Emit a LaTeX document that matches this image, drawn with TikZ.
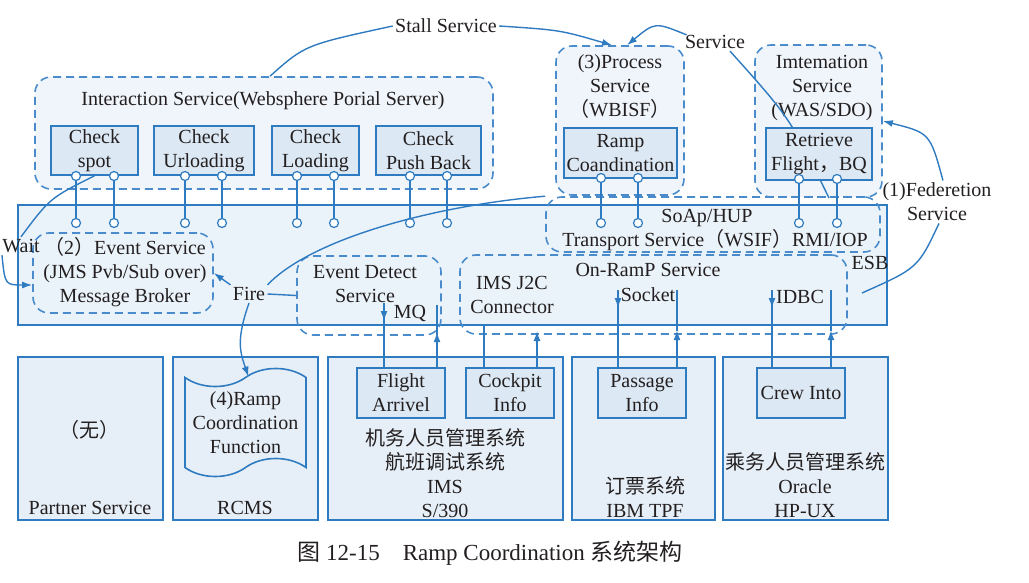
\documentclass[tikz,border=0pt]{standalone}
\usepackage{fontspec}
\setmainfont{Liberation Serif}
\newfontfamily\cjk{Noto Sans CJK SC}
\usepackage{tikz}
\usetikzlibrary{arrows.meta, positioning, calc, shapes.symbols}
\definecolor{rcblue}{HTML}{2F7BC1}
\definecolor{rcdash}{HTML}{4A8CCB}
\definecolor{rcfill}{HTML}{E6EFF7}
\definecolor{rcesb}{HTML}{EBF3FA}
\definecolor{rcapp}{HTML}{DCE8F3}
\definecolor{rcsvc}{HTML}{EFF5FA}
\definecolor{rcink}{HTML}{231F20}
\newcommand{\zh}[1]{{\cjk #1}}

\begin{document}
\begin{tikzpicture}[x=0.5pt, y=-0.5pt,
    every node/.style={text=rcink, font=\fontsize{10}{12}\selectfont, inner sep=1pt},
    svcbox/.style={draw=rcdash, line width=0.8pt, dash pattern=on 4pt off 2.5pt, rounded corners=8pt, inner sep=0pt},
    appbox/.style={draw=rcblue, line width=0.8pt, fill=rcapp, align=center, minimum width=44pt, minimum height=25pt, inner sep=0pt},
    sysbox/.style={draw=rcblue, line width=0.6pt, fill=rcfill, minimum height=81.5pt, inner sep=0pt},
    port/.style={circle, draw=rcblue, fill=white, line width=0.6pt, minimum size=4.5pt, inner sep=0pt},
    link/.style={rcblue, line width=0.7pt},
    arr/.style={link, -{Latex[length=5pt, width=3.5pt]}},
]
    \useasboundingbox (0,0) rectangle (1029,583);

    % ESB bus
    \node[sysbox, fill=rcesb, minimum width=434.5pt, minimum height=60pt] (esb) at (452.5,265) {};
    \node (esblbl) at (870,263) {ESB};

    % Interaction service
    \node[svcbox, fill=rcsvc, minimum width=229pt, minimum height=56pt] (inter) at (264,133) {};
    \node (intertxt) at (263,101) {Interaction Service(Websphere Porial Server)};
    \node[appbox, minimum width=43.5pt, minimum height=24.5pt] (cspot) at (94.5,150.5) {Check\\spot};
    \node[appbox, minimum width=50pt, minimum height=24.5pt] (curl) at (204,150.5) {Check\\Urloading};
    \node[appbox, minimum width=43.5pt, minimum height=24.5pt] (cload) at (315.5,150.5) {Check\\Loading};
    \node[appbox, minimum width=52.5pt, minimum height=24.5pt] (cpush) at (428.5,150.5) {Check\\Push Back};

    % Process service
    \node[svcbox, fill=rcsvc, minimum width=64pt, minimum height=74.5pt] (proc) at (620,120.5) {};
    \node[align=center] (proctxt) at (620,87) {(3)Process\\Service\\\zh{（}WBISF\zh{）}};
    \node[appbox, minimum width=56.5pt] (ramp) at (620.5,153) {Ramp\\Coandination};

    % Imtemation service
    \node[svcbox, fill=rcsvc, minimum width=63.5pt, minimum height=76pt] (imt) at (818.5,121) {};
    \node[align=center] (imttxt) at (822,88) {Imtemation\\Service\\(WAS/SDO)};
    \node (svc) at (715,42) {Service};
    \draw[link] ($(svc.south)+(15,0)$) .. controls (790,118) .. (829,198);
    \node[appbox, minimum width=53pt, minimum height=26pt] (retr) at (819,154) {Retrieve\\Flight\zh{，}BQ};

    % SoAp/HUP transport
    \node[svcbox, minimum width=167pt, minimum height=27.5pt] (soap) at (713,224.5) {};
    \node (soaptxt) at (707,218) {SoAp/HUP};
    \node (wsif) at (715,240) {Transport Service\zh{（}WSIF\zh{）}RMI/IOP};

    % Event service
    \node[svcbox, minimum width=90pt, minimum height=40pt] (evt) at (123,273) {};
    \node[align=center] (evttxt) at (125,272) {\zh{（}2\zh{）}Event Service\\(JMS Pvb/Sub over)\\Message Broker};

    % Event detect + On-RamP
    \node[svcbox, minimum width=72pt, minimum height=39.5pt] (det) at (369,295.5) {};
    \node[align=center] (dettxt) at (365,284) {Event Detect\\Service};
    \node[svcbox, minimum width=193.5pt, minimum height=39.5pt] (onramp) at (653.5,294.5) {};
    \node (onramptxt) at (648,270) {On-RamP Service};
    \node[align=center] (j2c) at (512,295) {IMS J2C\\Connector};

    % Back-end systems
    \node[sysbox, minimum width=72.5pt] (partner) at (90.5,438.5) {};
    \node[sysbox, minimum width=72.5pt] (rcms) at (245.5,438.5) {};
    \node[sysbox, minimum width=117.5pt] (ims) at (445.5,438.5) {};
    \node[sysbox, minimum width=71.5pt] (tpf) at (643.5,438.5) {};
    \node[sysbox, minimum width=82.5pt] (hpux) at (805.5,438.5) {};

    \node (none) at (90,430) {\zh{（无）}};
    \node (partnertxt) at (90,508) {Partner Service};
    \node[tape, draw=rcblue, line width=0.8pt, fill=rcfill, align=center, minimum width=60.5pt, minimum height=54pt, tape bend height=9pt, inner sep=0pt] (rcf) at (245.5,422.5) {(4)Ramp\\Coordination\\Function};
    \node (rcmstxt) at (245,508) {RCMS};

    \node[appbox] (flight) at (401,393) {Flight\\Arrivel};
    \node[appbox] (cockpit) at (510,393) {Cockpit\\Info};
    \node[align=center] (imstxt) at (445,473) {\zh{机务人员管理系统}\\\zh{航班调试系统}\\IMS\\S/390};
    \node[appbox] (passage) at (642,393) {Passage\\Info};
    \node[align=center] (tpftxt) at (645,497) {\zh{订票系统}\\IBM TPF};
    \node[appbox] (crew) at (801,393) {Crew Into};
    \node[align=center] (hpuxtxt) at (805,485) {\zh{乘务人员管理系统}\\Oracle\\HP-UX};

    % Ports to the bus
    \node[port] (sa1) at (76,176) {};  \node[port] (sb1) at (76,223) {};  \draw[link] (sa1) -- (sb1);
    \node[port] (sa2) at (114,176) {}; \node[port] (sb2) at (114,223) {}; \draw[link] (sa2) -- (sb2);
    \node[port] (sa3) at (185,176) {}; \node[port] (sb3) at (185,223) {}; \draw[link] (sa3) -- (sb3);
    \node[port] (sa4) at (222,176) {}; \node[port] (sb4) at (222,223) {}; \draw[link] (sa4) -- (sb4);
    \node[port] (sa5) at (297,176) {}; \node[port] (sb5) at (297,223) {}; \draw[link] (sa5) -- (sb5);
    \node[port] (sa6) at (334,176) {}; \node[port] (sb6) at (334,223) {}; \draw[link] (sa6) -- (sb6);
    \node[port] (sa7) at (410,176) {}; \node[port] (sb7) at (410,223) {}; \draw[link] (sa7) -- (sb7);
    \node[port] (sa8) at (447,176) {}; \node[port] (sb8) at (447,223) {}; \draw[link] (sa8) -- (sb8);
    \node[port] (ra1) at (601,178) {}; \node[port] (rb1) at (601,223) {}; \draw[link] (ra1) -- (rb1);
    \node[port] (ra2) at (638,178) {}; \node[port] (rb2) at (638,223) {}; \draw[link] (ra2) -- (rb2);
    \node[port] (ta1) at (799,179) {}; \node[port] (tb1) at (799,223) {}; \draw[link] (ta1) -- (tb1);
    \node[port] (ta2) at (837,179) {}; \node[port] (tb2) at (837,223) {}; \draw[link] (ta2) -- (tb2);

    % Stall Service
    \node (stall) at (446,26) {Stall Service};
    \draw[link] ($(inter.north)+(6,0)$) .. controls (305,45) .. (stall.west);
    \draw[arr] (stall.east) .. controls (560,30) .. ($(proc.north)+(-8,0)$);
    \draw[arr] ($(svc.north west)+(4,2)$) .. controls (655,22) .. ($(proc.north)+(7,0)$);

    % Federetion
    \node[align=center] (fed) at (937,202) {(1)Federetion\\Service};
    \coordinate (fedend) at (862,293);
    \draw[arr] ($(fed.north)+(6,0)$) .. controls (930,133) .. (imt.east);
    \draw[link] ($(fed.south)+(2,0)$) .. controls (918,268) .. (fedend);

    % Wait
    \node (wait) at (21,246) {Wait};
    \draw[link] (cspot.south) .. controls (50,198) .. (wait.north);
    \draw[arr] ($(wait.south west)+(2,0)$) .. controls (5,285) .. ($(evt.west)+(0,12)$);

    % Fire
    \node (fire) at (249,294) {Fire};
    \draw[arr] (fire.north west) -- (evt.east);
    \draw[link] (fire.east) -- (det.west);
    \draw[link] (fire.north east) .. controls (310,240) and (430,206) .. (soap.north west);
    \draw[arr] (fire.south) .. controls (236,340) and (240,352) .. ($(rcf.north)+(3,0)$);

    % MQ
    \node (mq) at (410,313) {MQ};
    \coordinate (mqdn) at (384,303);
    \coordinate (mqup) at (437,305);
    \draw[arr] (mqdn) -- ++(0,18);
    \draw[link] (mqdn) -- (mqdn |- flight.north);
    \draw[arr] (mqup |- flight.north) -- ++(0,-35);
    \draw[link] (mqup) -- ++(0,30);

    % J2C
    \coordinate (j2cdn) at (484,325);
    \coordinate (j2cup) at (537,331);
    \draw[link] (j2cdn) -- (j2cdn |- cockpit.north);
    \draw[arr] (j2cup |- cockpit.north) -- (j2cup);

    % Socket
    \node (sock) at (648,295) {Socket};
    \coordinate (sockdn) at (618,290);
    \coordinate (sockup) at (677,290);
    \draw[arr] (sockdn) -- ++(0,18);
    \draw[link] (sockdn) -- (sockdn |- passage.north);
    \draw[arr] (sockup |- passage.north) -- ++(0,-37);
    \draw[link] (sockup) -- ++(0,41);

    % IDBC
    \node (idbc) at (800,297) {IDBC};
    \coordinate (idbcdn) at (772,290);
    \coordinate (idbcup) at (831,290);
    \draw[arr] (idbcdn) -- ++(0,18);
    \draw[link] (idbcdn) -- (idbcdn |- crew.north);
    \draw[arr] (idbcup |- crew.north) -- ++(0,-37);
    \draw[link] (idbcup) -- ++(0,41);

    % Caption
    \node[font=\fontsize{11.5}{13}\selectfont] (cap) at (490,553) {\zh{图} 12-15\quad Ramp Coordination \zh{系统架构}};
\end{tikzpicture}
\end{document}
